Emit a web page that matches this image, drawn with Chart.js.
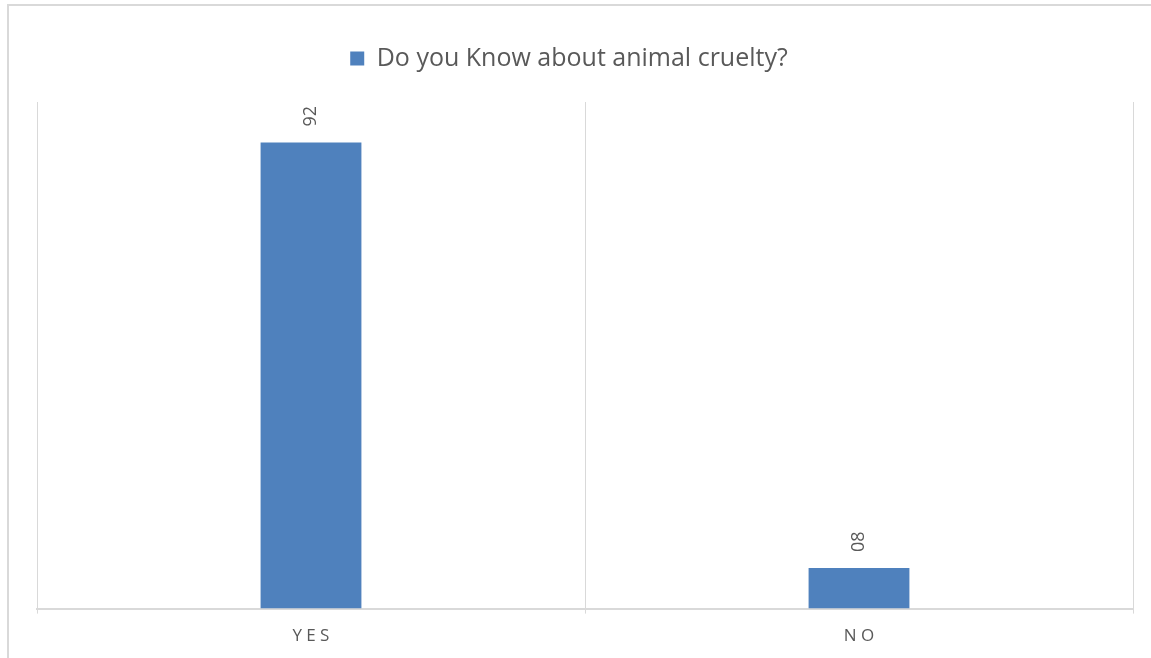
<!DOCTYPE html>
<html>
<head>
<meta charset="utf-8">
<script src="https://cdn.jsdelivr.net/npm/chart.js@4/dist/chart.umd.min.js"></script>
<style>
  html, body { margin: 0; padding: 0; background: #fff; overflow: hidden; }
  #frame { position: absolute; left: 7px; top: 4px; width: 1200px; height: 700px;
           border: 2px solid #d9d9d9; box-sizing: border-box; }
  #wrap { position: absolute; left: 0; top: 0; width: 1151px; height: 658px; }
</style>
</head>
<body>
<div id="frame"></div>
<div id="wrap"><canvas id="c" width="1151" height="658"></canvas></div>
<script>
// Survey answers
const categories = ['YES', 'NO'];
const seriesName = 'Do you Know about animal cruelty?';
const responses = [92, 8];

const TEXT = '#595959';
const GRID = '#d9d9d9';
const BAR = '#4f81bd';
const FONT = '"Open Sans", Lato, sans-serif';

// Value labels drawn vertically above each bar
const valueLabels = {
  id: 'valueLabels',
  afterDatasetsDraw(chart) {
    const ctx = chart.ctx;
    const meta = chart.getDatasetMeta(0);
    ctx.save();
    ctx.fillStyle = TEXT;
    ctx.font = '18px ' + FONT;
    ctx.textAlign = 'left';
    ctx.textBaseline = 'middle';
    meta.data.forEach((bar, i) => {
      const txt = String(responses[i]).padStart(2, '0');
      ctx.save();
      ctx.translate(bar.x, bar.y - 16);
      ctx.rotate(-Math.PI / 2);
      ctx.fillText(txt, 0, 0);
      ctx.restore();
    });
    ctx.restore();
  }
};

// Extra gap between the legend row and the plot area, and centre the
// legend on the whole canvas rather than on the padded area
const legendGap = {
  id: 'legendGap',
  beforeInit(chart) {
    const legend = chart.legend;
    if (!legend || legend._gapPatched) return;
    const fit = legend.fit;
    legend.fit = function () {
      fit.call(this);
      this.height += 21;
    };
    legend._gapPatched = true;
  },
  afterLayout(chart) {
    const legend = chart.legend;
    if (!legend) return;
    legend.left -= 16;
    legend.right -= 16;
  }
};

new Chart(document.getElementById('c'), {
  type: 'bar',
  data: {
    labels: categories,
    datasets: [{
      label: seriesName,
      data: responses,
      backgroundColor: BAR,
      borderWidth: 0,
      categoryPercentage: 1,
      barPercentage: 0.184
    }]
  },
  options: {
    responsive: false,
    animation: false,
    layout: { padding: { left: 37, right: 18, top: 36, bottom: 0 } },
    plugins: {
      legend: {
        position: 'top',
        labels: {
          boxWidth: 14, boxHeight: 14, padding: 10,
          color: TEXT,
          font: { family: FONT, size: 25 }
        }
      },
      tooltip: { enabled: false }
    },
    scales: {
      x: {
        grid: { color: GRID, lineWidth: 1, offset: true, drawTicks: true, tickLength: 5, tickColor: GRID },
        border: { color: GRID, width: 2 },
        ticks: {
          color: TEXT, padding: 12,
          font: { family: FONT, size: 17 },
          callback(v, i) { return categories[i].split('').join('\u2005'); }
        }
      },
      y: {
        display: false,
        min: 0, max: 100
      }
    }
  },
  plugins: [legendGap, valueLabels]
});
</script>
</body>
</html>
